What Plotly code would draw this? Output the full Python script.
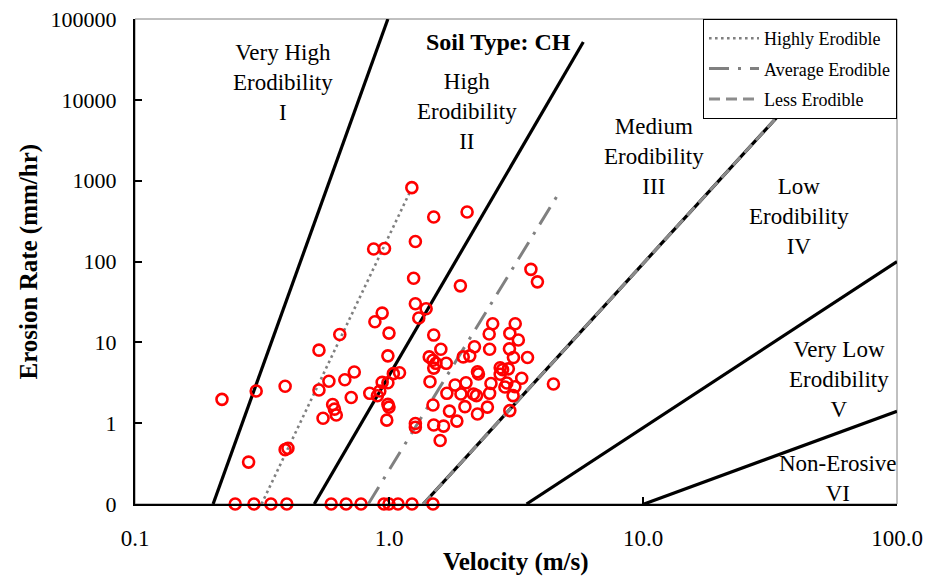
import plotly.graph_objects as go

# ---- data ----
velocity = [1.23, 1.50, 2.03, 0.87, 0.96, 1.27, 1.25, 1.91, 3.62, 3.84, 1.27, 1.40, 1.31, 0.94, 0.88, 1.00, 0.99, 0.64, 0.53, 2.56, 3.14,
            0.22, 0.30, 0.39, 0.28, 0.39, 0.40, 0.58, 0.53, 0.67, 0.73, 0.71, 0.60, 0.61, 0.62, 0.55, 0.84, 0.90, 0.92, 0.94, 0.99,
            1.04, 1.10, 0.99, 1.00, 0.98, 1.27, 1.27,
            1.50, 1.44, 1.60, 1.49, 1.53, 1.50, 1.68, 1.45, 1.49, 1.50, 1.64, 1.59, 1.69, 1.82, 1.92, 2.01, 1.96, 2.08, 2.17, 2.15,
            2.21, 2.23, 2.25, 2.49, 2.52, 2.49, 2.48, 1.99, 1.73, 1.85, 2.23, 2.44, 2.74, 2.74, 2.80, 3.23, 2.99, 2.98, 3.09, 3.51,
            2.95, 3.33, 2.91, 3.13, 3.08, 2.99, 4.44, 2.86]
erosion = [820, 355, 410, 143, 145, 177, 62, 50, 80, 56, 30, 26, 20, 23, 18, 13, 6.8, 12.5, 8.0, 17, 17,
           1.97, 2.5, 2.86, 0.33, 0.47, 0.49, 3.3, 2.57, 3.45, 4.3, 2.08, 1.70, 1.49, 1.26, 1.15, 2.34, 2.18, 2.5, 3.2, 3.16,
           4.1, 4.2, 1.71, 1.58, 1.09, 0.99, 0.89,
           12.3, 6.6, 8.2, 6.0, 5.5, 4.8, 5.5, 3.26, 1.68, 0.95, 0.92, 0.61, 2.34, 2.96, 2.3, 3.16, 6.6, 6.8, 8.8, 2.3,
           2.19, 4.33, 4.06, 2.34, 3.1, 8.2, 12.7, 1.6, 1.41, 1.06, 1.3, 1.58, 4.84, 4.03, 4.6, 10.7, 12.9, 8.3, 6.5, 6.5,
           4.7, 3.6, 3.14, 2.82, 2.19, 1.43, 3.05, 2.8]
# points plotted on the "0" baseline
velocity_zero = [0.248, 0.294, 0.343, 0.396, 0.592, 0.678, 0.776, 0.955, 1.0, 1.085, 1.232, 1.49]
erosion_zero = [0.1, 0.1, 0.1, 0.1, 0.1, 0.1, 0.1, 0.1, 0.1, 0.1, 0.1, 0.1]

# zone boundary lines (velocity, erosion)
bound_I_v, bound_I_e = [0.203, 0.99], [0.1, 100000]
bound_II_v, bound_II_e = [0.508, 5.82], [0.1, 52000]
bound_III_v, bound_III_e = [1.365, 76], [0.1, 100000]
bound_IV_v, bound_IV_e = [3.48, 100], [0.1, 100]
bound_V_v, bound_V_e = [10.1, 100], [0.1, 1.4]
highly_v, highly_e = [0.315, 1.21], [0.1, 730]
average_v, average_e = [0.829, 4.75], [0.1, 770]
less_v, less_e = [1.365, 76], [0.1, 100000]

y_tickvals = [0.1, 1, 10, 100, 1000, 10000, 100000]
y_ticktext = ["0", "1", "10", "100", "1000", "10000", "100000"]
x_tickvals = [0.1, 1, 10, 100]
x_ticktext = ["0.1", "1.0", "10.0", "100.0"]

FONT = "Liberation Serif"
fig = go.Figure()

for vx, ey in [(bound_I_v, bound_I_e), (bound_II_v, bound_II_e), (bound_III_v, bound_III_e),
               (bound_IV_v, bound_IV_e), (bound_V_v, bound_V_e)]:
    fig.add_trace(go.Scatter(x=vx, y=ey, mode="lines", line=dict(color="black", width=3.2),
                             showlegend=False, hoverinfo="skip", cliponaxis=False))

fig.add_trace(go.Scatter(x=highly_v, y=highly_e, mode="lines", name="Highly Erodible",
                         line=dict(color="#808080", width=2.6, dash="2.6px,3.4px"), legendgroup="a"))
fig.add_trace(go.Scatter(x=average_v, y=average_e, mode="lines", name="Average Erodible",
                         line=dict(color="#808080", width=3, dash="20px,9px,3px,9px"), legendgroup="b"))
fig.add_trace(go.Scatter(x=less_v, y=less_e, mode="lines", name="Less Erodible",
                         line=dict(color="#8c8c8c", width=3, dash="11px,6px"), legendgroup="c"))

fig.add_trace(go.Scatter(x=velocity + velocity_zero, y=erosion + erosion_zero, mode="markers",
                         marker=dict(symbol="circle-open", size=11, color="red", line=dict(width=2.6, color="red")),
                         showlegend=False, cliponaxis=False))

annos = [
    ("Very High<br>Erodibility<br>I", 0.194, 0.870),
    ("High<br>Erodibility<br>II", 0.436, 0.810),
    ("Medium<br>Erodibility<br>III", 0.681, 0.7155),
    ("Low<br>Erodibility<br>IV", 0.871, 0.592),
    ("Very Low<br>Erodibility<br>V", 0.924, 0.2557),
    ("Non-Erosive<br>VI", 0.923, 0.0526),
]
for txt, x, y in annos:
    fig.add_annotation(text=txt, x=x, y=y, xref="paper", yref="paper", showarrow=False,
                       font=dict(family=FONT, size=23, color="black"), xanchor="center", yanchor="middle")
fig.add_annotation(text="<b>Soil Type: CH</b>", x=0.477, y=0.953, xref="paper", yref="paper", showarrow=False,
                   font=dict(family=FONT, size=24, color="black"), xanchor="center", yanchor="middle")
fig.add_annotation(text="<b>Velocity (m/s)</b>", x=0.5, y=-0.1196, xref="paper", yref="paper", showarrow=False,
                   font=dict(family=FONT, size=25, color="black"), xanchor="center", yanchor="middle")
fig.add_annotation(text="<b>Erosion Rate (mm/hr)</b>", x=-0.1404, y=0.5, xref="paper", yref="paper", showarrow=False,
                   textangle=-90, font=dict(family=FONT, size=25, color="black"), xanchor="center", yanchor="middle")

# gray plot-area border
fig.add_shape(type="rect", xref="paper", yref="paper", x0=0, y0=0, x1=1, y1=1,
              line=dict(color="#808080", width=1), layer="below")

fig.update_layout(
    width=930, height=577,
    margin=dict(l=135, r=33, t=19, b=73, autoexpand=False),
    paper_bgcolor="white", plot_bgcolor="white",
    font=dict(family=FONT, size=23, color="black"),
    legend=dict(x=1, y=1, xanchor="right", yanchor="top", bgcolor="white",
                bordercolor="black", borderwidth=1, font=dict(family=FONT, size=18),
                tracegroupgap=4, itemwidth=50),
    xaxis=dict(type="log", range=[-1, 2], tickvals=x_tickvals, ticktext=x_ticktext, automargin=False,
               showgrid=False, zeroline=False, showline=True, linecolor="black", linewidth=2,
               ticks="inside", ticklen=7, tickwidth=1.5, tickcolor="black", ticklabelstandoff=12,
               tickfont=dict(family=FONT, size=23)),
    yaxis=dict(type="log", range=[-1, 5], tickvals=y_tickvals, ticktext=y_ticktext, automargin=False,
               showgrid=False, zeroline=False, showline=True, linecolor="black", linewidth=2,
               ticks="inside", ticklen=7, tickwidth=1.5, tickcolor="black", ticklabelstandoff=12,
               tickfont=dict(family=FONT, size=22)),
    showlegend=True,
)

fig.write_html("out.html")
